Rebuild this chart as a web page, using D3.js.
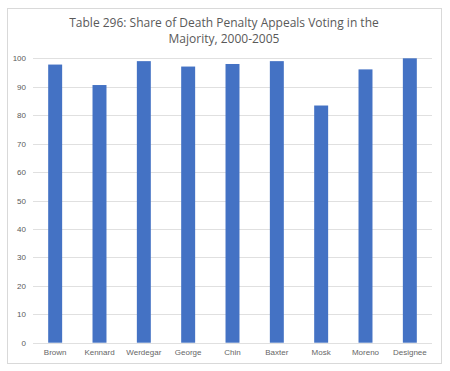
<!DOCTYPE html>
<html><head><meta charset="utf-8">
<script src="https://cdn.jsdelivr.net/npm/d3@7"></script>
<style>body{margin:0;background:#fff;}svg{display:block;font-family:"Open Sans",sans-serif;}</style>
</head><body>
<script>
const categories = ["Brown","Kennard","Werdegar","George","Chin","Baxter","Mosk","Moreno","Designee"];
const values = [97.8, 90.6, 99.0, 97.1, 98.0, 99.0, 83.4, 96.1, 100];
const yTicks = [0,10,20,30,40,50,60,70,80,90,100];
const titleLines = ["Table 296: Share of Death Penalty Appeals Voting in the","Majority, 2000-2005"];

const W = 450, H = 371;
const svg = d3.select("body").append("svg").attr("width", W).attr("height", H);
svg.append("rect").attr("x",7.5).attr("y",8.5).attr("width",434).attr("height",355)
  .attr("fill","#fff").attr("stroke","#d9d9d9");

const x = d3.scaleBand().domain(categories).range([33, 432]).paddingInner(0.685).paddingOuter(0.3425);
const y = d3.scaleLinear().domain([0,100]).range([342.7, 58.3]);

svg.append("g").selectAll("line").data(yTicks).join("line")
  .attr("x1",33).attr("x2",432).attr("y1",d=>Math.round(y(d))+0.5).attr("y2",d=>Math.round(y(d))+0.5)
  .attr("stroke","#e0e0e0").attr("stroke-width",1);

svg.append("g").selectAll("rect").data(values).join("rect")
  .attr("x",(d,i)=>x(categories[i])).attr("width",x.bandwidth())
  .attr("y",d=>y(d)).attr("height",d=>y(0)-y(d)).attr("fill","#4472c4");

const yAxis = d3.axisLeft(y).tickValues(yTicks).tickSize(0).tickPadding(0);
const gy = svg.append("g").attr("transform","translate(26,0)").call(yAxis);
gy.select(".domain").remove();
gy.selectAll("text").attr("fill","#595959").style("font-size","8px");

const xAxis = d3.axisBottom(x).tickSize(0).tickPadding(0);
const gx = svg.append("g").attr("transform","translate(0,349)").call(xAxis);
gx.select(".domain").remove();
gx.selectAll("text").attr("fill","#666").style("font-size","8px");

svg.append("g").selectAll("text").data(titleLines).join("text")
  .attr("x",224).attr("y",(d,i)=>27+i*16).attr("text-anchor","middle")
  .attr("fill","#595959").style("font-size","12px").text(d=>d);
</script>
</body></html>
